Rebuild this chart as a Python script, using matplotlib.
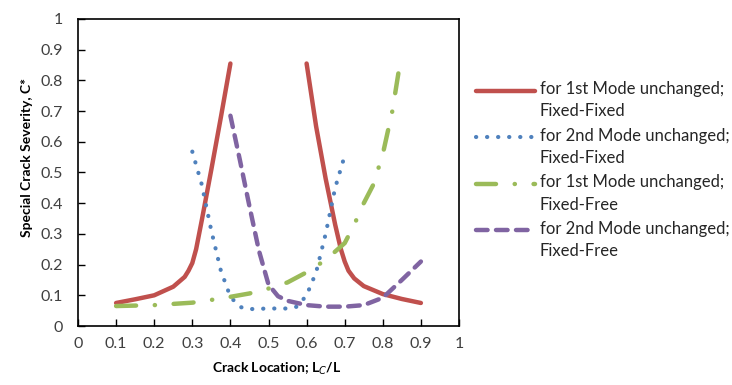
import matplotlib
matplotlib.use('Agg')
import matplotlib.pyplot as plt

plt.rcParams['font.family'] = ['Lato', 'DejaVu Sans']

# 1st mode unchanged, fixed-fixed (two branches)
x_ff1 = [0.1, 0.15, 0.2, 0.25, 0.28, 0.29, 0.3, 0.31, 0.325, 0.35, 0.375, 0.4]
y_ff1 = [0.075, 0.087, 0.1, 0.128, 0.16, 0.18, 0.205, 0.25, 0.345, 0.51, 0.68, 0.855]
x_ff1b = [0.6, 0.625, 0.65, 0.675, 0.69, 0.7, 0.71, 0.725, 0.75, 0.8, 0.85, 0.9]
y_ff1b = [0.855, 0.65, 0.48, 0.33, 0.25, 0.21, 0.18, 0.155, 0.13, 0.104, 0.088, 0.075]

# 2nd mode unchanged, fixed-fixed
x_ff2 = [0.3, 0.325, 0.35, 0.375, 0.4, 0.425, 0.45, 0.5, 0.55, 0.575,
         0.6, 0.625, 0.65, 0.675, 0.7]
y_ff2 = [0.568, 0.46, 0.31, 0.18, 0.095, 0.062, 0.055, 0.057, 0.057, 0.063,
         0.1, 0.175, 0.3, 0.45, 0.555]

# 1st mode unchanged, fixed-free
x_fr1 = [0.1, 0.2, 0.3, 0.35, 0.4, 0.45, 0.5, 0.55, 0.6, 0.65, 0.7, 0.725,
         0.75, 0.775, 0.8, 0.825, 0.845]
y_fr1 = [0.065, 0.068, 0.076, 0.085, 0.095, 0.106, 0.122, 0.142, 0.175, 0.215,
         0.27, 0.33, 0.4, 0.46, 0.56, 0.7, 0.855]

# 2nd mode unchanged, fixed-free
x_fr2 = [0.4, 0.425, 0.45, 0.475, 0.5, 0.525, 0.55, 0.6, 0.65, 0.7, 0.75,
         0.8, 0.85, 0.9]
y_fr2 = [0.685, 0.54, 0.39, 0.245, 0.135, 0.097, 0.082, 0.068, 0.063, 0.063,
         0.068, 0.092, 0.15, 0.21]

labels = ['for 1st Mode unchanged;\nFixed-Fixed',
          'for 2nd Mode unchanged;\nFixed-Fixed',
          'for 1st Mode unchanged;\nFixed-Free',
          'for 2nd Mode unchanged;\nFixed-Free']
ticks = [i / 10 for i in range(11)]
tick_text = ['0', '0.1', '0.2', '0.3', '0.4', '0.5', '0.6', '0.7', '0.8', '0.9', '1']

fig = plt.figure(figsize=(7.32, 3.85), dpi=100)
ax = fig.add_axes([78 / 732, 1 - 326 / 385, 381 / 732, 307 / 385])

red = '#c0504d'
blue = '#4f81bd'
green = '#9bbb59'
purple = '#8064a2'

ax.plot(x_ff1, y_ff1, color=red, lw=3.2, solid_capstyle='round',
        solid_joinstyle='round', label=labels[0])
ax.plot(x_ff1b, y_ff1b, color=red, lw=3.2, solid_capstyle='round',
        solid_joinstyle='round')
ax.plot(x_ff2, y_ff2, color=blue, lw=3, linestyle=(0, (0.05, 2.6)),
        dash_capstyle='round', label=labels[1])
ax.plot(x_fr1, y_fr1, color=green, lw=3.2, linestyle=(0, (4.5, 4.2, 0.05, 4.2)),
        dash_capstyle='round', label=labels[2])
ax.plot(x_fr2, y_fr2, color=purple, lw=3.2, linestyle=(0, (2.6, 1.9)),
        dash_capstyle='round', label=labels[3])

ax.set_xlim(0, 1)
ax.set_ylim(0, 1)
ax.set_xticks(ticks)
ax.set_yticks(ticks)
ax.set_xticklabels(tick_text)
ax.set_yticklabels(tick_text)
ax.tick_params(direction='in', length=5, width=1, labelsize=11.5, colors='black',
               labelcolor='#404040')
ax.tick_params(axis='x', pad=8)
ax.tick_params(axis='y', pad=11)
for s in ax.spines.values():
    s.set_color('black')
    s.set_linewidth(1.2)

ax.set_xlabel('Crack Location; L$_C$/L', fontsize=10, fontweight='bold')
ax.set_ylabel('Special Crack Severity, C*', fontsize=10, fontweight='bold')
ax.xaxis.set_label_coords(0.522, -0.114)
ax.yaxis.set_label_coords(-0.118, 0.55)

leg = ax.legend(loc='upper left', bbox_to_anchor=(1.026, 0.819), frameon=False,
                fontsize=12, handlelength=3.55,
                handletextpad=0.3, labelspacing=0.5, borderaxespad=0)
for t in leg.get_texts():
    t.set_color('#262626')
    t.set_linespacing(1.48)
# put each legend sample next to the first text line, as in the source
for line in leg.get_lines():
    line.set_ydata([v + 7.5 for v in line.get_ydata()])

fig.savefig('out.png', dpi=100)
